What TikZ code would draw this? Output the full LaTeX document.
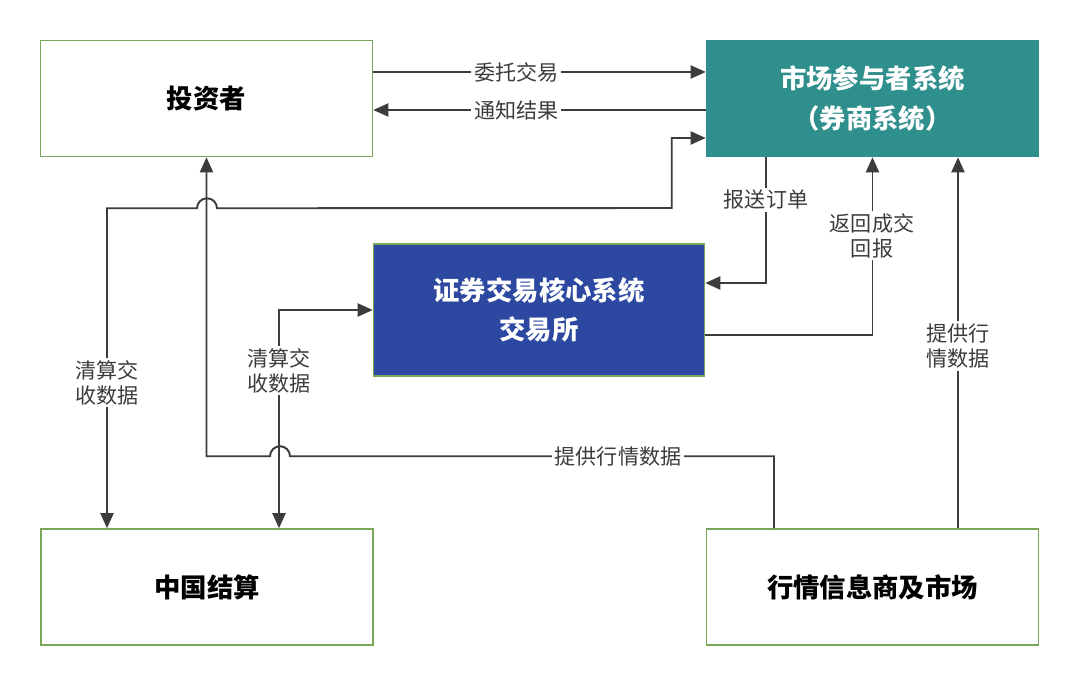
\documentclass[tikz,border=0pt]{standalone}
\usepackage{fontspec}
\newfontfamily\cjk{Noto Sans CJK SC}
\usepackage{tikz}
\usetikzlibrary{arrows.meta,positioning,calc}

\definecolor{boxgreen}{HTML}{7AA65A}
\definecolor{brkteal}{HTML}{2F8F8C}
\definecolor{exchblue}{HTML}{2C48A0}
\definecolor{linegray}{HTML}{3C3C3C}

\begin{document}
\begin{tikzpicture}[x=0.02cm,y=-0.02cm,
    box/.style={rectangle,draw=boxgreen,line width=0.9pt,minimum width=6.64cm,minimum height=2.32cm,
      align=center,font=\cjk\bfseries\fontsize{15}{22.5}\selectfont},
    conn/.style={draw=linegray,line width=1.1pt,>={Triangle[length=0.3cm,width=0.26cm]}},
    lbl/.style={fill=white,inner sep=1.5pt,align=center,text=linegray,font=\cjk\fontsize{12}{14.2}\selectfont}]
    \useasboundingbox (0,0) rectangle (1080,686);
    \node[box] (inv) at (206.5,98.5) {投资者};
    \node[box,fill=brkteal,draw=brkteal,text=white] (brk) at (872.5,98.5) {市场参与者系统\\（券商系统）};
    \node[box,fill=exchblue,minimum width=6.62cm,minimum height=2.64cm,text=white] (exch) at (539,310) {证券交易核心系统\\交易所};
    \node[box] (clr) at (207,587) {中国结算};
    \node[box] (mkt) at (872.5,587) {行情信息商及市场};
    % investor <-> broker
    \draw[conn,->] ($(inv.east)+(0,-26.5)$) -- ($(brk.west)+(0,-26.5)$) node[lbl,pos=0.43] {委托交易};
    \draw[conn,->] ($(brk.west)+(0,11.5)$) -- ($(inv.east)+(0,11.5)$) node[lbl,pos=0.57] {通知结果};
    % clearing data, with hops
    \draw[conn,<->] ($(brk.west)+(0,39.5)$) -| ($(brk.west)+(-34,109.5)$) -- ($(inv.south)+(10.5,51)$)
      arc[start angle=0,end angle=180,radius=0.2cm] -| ($(clr.north)+(-100,0)$);
    \draw[conn,->] ($(mkt.north)+(-98.5,0)$) |- ($(clr.north)+(83,-72)$)
      arc[start angle=0,end angle=180,radius=0.2cm] -| (inv.south);
    \draw[conn,<->] (exch.west) -| ($(clr.north)+(72,0)$);
    % exchange <-> broker
    \draw[conn,->] ($(brk.south)+(-106.5,0)$) |- ($(exch.east)+(0,-27)$);
    \draw[conn,->] ($(exch.east)+(0,25)$) -| (brk.south);
    \draw[conn,->] ($(mkt.north)+(85.5,0)$) -- ($(brk.south)+(85.5,0)$);
    % labels
    \node[lbl] (l1) at (107,382.5) {清算交\\收数据};
    \node[lbl] (l2) at (279,370.5) {清算交\\收数据};
    \node[lbl] (l3) at (618,457) {提供行情数据};
    \node[lbl] (l4) at (766,200) {报送订单};
    \node[lbl] (l5) at (872,235.5) {返回成交\\回报};
    \node[lbl] (l6) at (958,346) {提供行\\情数据};
\end{tikzpicture}
\end{document}
